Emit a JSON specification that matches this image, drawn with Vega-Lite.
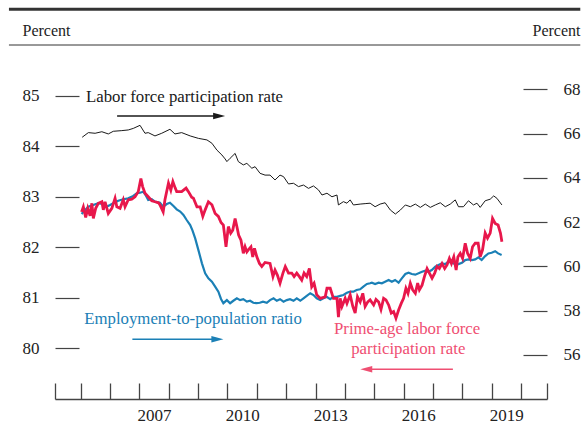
{
  "$schema": "https://vega.github.io/schema/vega-lite/v6.json",
  "width": 492,
  "height": 354,
  "autosize": "none",
  "padding": {"left": 55, "top": 45, "right": 41, "bottom": 29},
  "background": "white",
  "config": {"view": {"stroke": null}, "font": "Liberation Serif"},
  "datasets": {
    "lfpr": [
      {"year":2005.05,"value":65.83},{"year":2005.26,"value":66.04},{"year":2005.49,"value":66.01},{"year":2005.72,"value":66.08},{"year":2005.94,"value":65.98},
      {"year":2006.11,"value":66.10},{"year":2006.40,"value":66.13},{"year":2006.62,"value":66.16},{"year":2006.79,"value":66.23},{"year":2007.02,"value":66.37},
      {"year":2007.19,"value":66.01},{"year":2007.30,"value":66.04},{"year":2007.53,"value":65.89},{"year":2007.76,"value":66.01},{"year":2008.04,"value":66.19},
      {"year":2008.21,"value":65.98},{"year":2008.44,"value":66.04},{"year":2008.73,"value":65.89},{"year":2009.01,"value":65.78},{"year":2009.30,"value":65.71},
      {"year":2009.47,"value":65.56},{"year":2009.64,"value":65.25},{"year":2009.81,"value":65.03},{"year":2009.92,"value":64.85},{"year":2009.98,"value":64.73},
      {"year":2010.09,"value":64.88},{"year":2010.26,"value":65.10},{"year":2010.37,"value":64.73},{"year":2010.54,"value":64.58},{"year":2010.66,"value":64.65},
      {"year":2010.83,"value":64.43},{"year":2010.94,"value":64.50},{"year":2011.11,"value":64.20},{"year":2011.28,"value":64.12},{"year":2011.45,"value":64.12},
      {"year":2011.62,"value":63.90},{"year":2011.79,"value":64.12},{"year":2011.91,"value":64.05},{"year":2012.08,"value":63.72},{"year":2012.25,"value":63.75},
      {"year":2012.42,"value":63.60},{"year":2012.59,"value":63.67},{"year":2012.76,"value":63.52},{"year":2012.93,"value":63.63},{"year":2013.10,"value":63.45},
      {"year":2013.22,"value":63.22},{"year":2013.39,"value":63.30},{"year":2013.56,"value":63.14},{"year":2013.73,"value":63.22},{"year":2013.78,"value":62.77},
      {"year":2013.95,"value":62.92},{"year":2014.07,"value":62.85},{"year":2014.18,"value":63.00},{"year":2014.29,"value":62.77},{"year":2014.52,"value":62.81},
      {"year":2014.69,"value":62.83},{"year":2014.86,"value":62.85},{"year":2015.03,"value":62.69},{"year":2015.20,"value":62.81},{"year":2015.37,"value":62.87},
      {"year":2015.55,"value":62.54},{"year":2015.72,"value":62.36},{"year":2015.89,"value":62.54},{"year":2016.06,"value":62.77},{"year":2016.23,"value":62.69},
      {"year":2016.40,"value":62.81},{"year":2016.57,"value":62.66},{"year":2016.74,"value":62.81},{"year":2016.91,"value":62.66},{"year":2017.08,"value":62.77},
      {"year":2017.25,"value":62.87},{"year":2017.42,"value":62.69},{"year":2017.59,"value":62.81},{"year":2017.76,"value":63.00},{"year":2017.87,"value":62.69},
      {"year":2018.04,"value":62.69},{"year":2018.21,"value":62.96},{"year":2018.38,"value":62.77},{"year":2018.50,"value":62.85},{"year":2018.61,"value":62.66},
      {"year":2018.78,"value":62.96},{"year":2018.95,"value":63.03},{"year":2019.07,"value":63.18},{"year":2019.18,"value":63.07},{"year":2019.35,"value":62.77}
    ],
    "epop": [
      {"year":2005.03,"value":62.36},{"year":2005.15,"value":62.54},{"year":2005.26,"value":62.69},{"year":2005.43,"value":62.77},{"year":2005.60,"value":62.85},
      {"year":2005.77,"value":62.81},{"year":2005.88,"value":62.69},{"year":2006.00,"value":62.77},{"year":2006.11,"value":62.85},{"year":2006.28,"value":62.96},
      {"year":2006.45,"value":63.03},{"year":2006.62,"value":63.07},{"year":2006.79,"value":63.18},{"year":2006.91,"value":63.30},{"year":2007.02,"value":63.32},
      {"year":2007.13,"value":63.37},{"year":2007.21,"value":63.22},{"year":2007.30,"value":62.99},{"year":2007.42,"value":63.03},{"year":2007.53,"value":62.92},
      {"year":2007.70,"value":62.87},{"year":2007.81,"value":62.69},{"year":2007.93,"value":62.81},{"year":2008.04,"value":62.87},{"year":2008.16,"value":62.72},
      {"year":2008.27,"value":62.57},{"year":2008.39,"value":62.47},{"year":2008.50,"value":62.32},{"year":2008.61,"value":62.09},{"year":2008.73,"value":61.86},
      {"year":2008.81,"value":61.61},{"year":2008.90,"value":61.26},{"year":2009.01,"value":60.73},{"year":2009.13,"value":60.13},{"year":2009.24,"value":59.68},
      {"year":2009.35,"value":59.45},{"year":2009.47,"value":59.30},{"year":2009.58,"value":59.08},{"year":2009.69,"value":58.85},{"year":2009.78,"value":58.52},
      {"year":2009.86,"value":58.33},{"year":2009.98,"value":58.47},{"year":2010.09,"value":58.33},{"year":2010.20,"value":58.44},{"year":2010.32,"value":58.55},
      {"year":2010.43,"value":58.47},{"year":2010.54,"value":58.51},{"year":2010.66,"value":58.40},{"year":2010.77,"value":58.44},{"year":2010.88,"value":58.35},
      {"year":2010.99,"value":58.33},{"year":2011.10,"value":58.35},{"year":2011.21,"value":58.40},{"year":2011.34,"value":58.35},{"year":2011.45,"value":58.47},
      {"year":2011.57,"value":58.55},{"year":2011.68,"value":58.44},{"year":2011.79,"value":58.51},{"year":2011.91,"value":58.40},{"year":2012.02,"value":58.47},
      {"year":2012.13,"value":58.51},{"year":2012.25,"value":58.44},{"year":2012.36,"value":58.55},{"year":2012.48,"value":58.44},{"year":2012.59,"value":58.55},
      {"year":2012.70,"value":58.66},{"year":2012.82,"value":58.78},{"year":2012.93,"value":58.70},{"year":2013.04,"value":58.55},{"year":2013.16,"value":58.47},
      {"year":2013.27,"value":58.55},{"year":2013.38,"value":58.62},{"year":2013.50,"value":58.51},{"year":2013.61,"value":58.62},{"year":2013.73,"value":58.62},
      {"year":2013.84,"value":58.66},{"year":2013.95,"value":58.70},{"year":2014.07,"value":58.80},{"year":2014.18,"value":58.85},{"year":2014.29,"value":58.85},
      {"year":2014.40,"value":58.93},{"year":2014.52,"value":58.96},{"year":2014.63,"value":59.08},{"year":2014.75,"value":59.20},{"year":2014.86,"value":59.23},
      {"year":2014.92,"value":59.26},{"year":2015.03,"value":59.20},{"year":2015.15,"value":59.26},{"year":2015.26,"value":59.23},{"year":2015.37,"value":59.30},
      {"year":2015.49,"value":59.38},{"year":2015.60,"value":59.30},{"year":2015.71,"value":59.38},{"year":2015.83,"value":59.26},{"year":2015.94,"value":59.45},
      {"year":2016.06,"value":59.65},{"year":2016.17,"value":59.71},{"year":2016.28,"value":59.65},{"year":2016.40,"value":59.62},{"year":2016.51,"value":59.68},
      {"year":2016.63,"value":59.75},{"year":2016.74,"value":59.80},{"year":2016.85,"value":59.75},{"year":2016.96,"value":59.83},{"year":2017.08,"value":59.98},
      {"year":2017.19,"value":60.06},{"year":2017.30,"value":60.13},{"year":2017.42,"value":60.10},{"year":2017.53,"value":60.21},{"year":2017.64,"value":60.16},
      {"year":2017.76,"value":60.10},{"year":2017.87,"value":60.10},{"year":2017.99,"value":60.16},{"year":2018.10,"value":60.28},{"year":2018.21,"value":60.31},
      {"year":2018.33,"value":60.28},{"year":2018.44,"value":60.31},{"year":2018.55,"value":60.40},{"year":2018.66,"value":60.28},{"year":2018.78,"value":60.46},
      {"year":2018.89,"value":60.58},{"year":2019.00,"value":60.61},{"year":2019.12,"value":60.68},{"year":2019.22,"value":60.58},{"year":2019.34,"value":60.51}
    ],
    "prime": [
      {"year":2005.03,"value":82.70},{"year":2005.09,"value":82.80},{"year":2005.17,"value":82.59},{"year":2005.24,"value":82.77},{"year":2005.32,"value":82.62},
      {"year":2005.38,"value":82.87},{"year":2005.43,"value":82.57},{"year":2005.51,"value":82.77},{"year":2005.60,"value":82.87},{"year":2005.72,"value":82.90},
      {"year":2005.77,"value":82.74},{"year":2005.83,"value":82.90},{"year":2005.94,"value":82.67},{"year":2006.06,"value":82.77},{"year":2006.17,"value":82.97},
      {"year":2006.23,"value":82.80},{"year":2006.34,"value":82.77},{"year":2006.45,"value":82.94},{"year":2006.51,"value":82.80},{"year":2006.62,"value":82.94},
      {"year":2006.74,"value":82.95},{"year":2006.85,"value":83.00},{"year":2006.96,"value":83.10},{"year":2007.05,"value":83.36},{"year":2007.11,"value":83.20},
      {"year":2007.19,"value":83.07},{"year":2007.30,"value":83.00},{"year":2007.42,"value":82.92},{"year":2007.53,"value":82.90},{"year":2007.65,"value":82.88},
      {"year":2007.70,"value":82.84},{"year":2007.81,"value":82.70},{"year":2007.87,"value":82.94},{"year":2007.99,"value":83.27},{"year":2008.07,"value":83.13},
      {"year":2008.14,"value":83.30},{"year":2008.22,"value":83.17},{"year":2008.27,"value":83.10},{"year":2008.44,"value":83.10},{"year":2008.59,"value":83.17},
      {"year":2008.67,"value":83.10},{"year":2008.78,"value":82.99},{"year":2008.84,"value":82.97},{"year":2008.96,"value":82.80},{"year":2009.07,"value":82.80},
      {"year":2009.16,"value":82.61},{"year":2009.24,"value":82.74},{"year":2009.35,"value":82.90},{"year":2009.47,"value":82.84},{"year":2009.58,"value":82.67},
      {"year":2009.69,"value":82.61},{"year":2009.78,"value":82.49},{"year":2009.86,"value":82.44},{"year":2009.95,"value":82.01},{"year":2010.03,"value":82.41},
      {"year":2010.11,"value":82.28},{"year":2010.18,"value":82.34},{"year":2010.26,"value":82.57},{"year":2010.32,"value":82.41},{"year":2010.38,"value":82.24},
      {"year":2010.46,"value":82.14},{"year":2010.54,"value":81.88},{"year":2010.60,"value":82.01},{"year":2010.66,"value":81.91},{"year":2010.71,"value":81.95},
      {"year":2010.80,"value":82.01},{"year":2010.86,"value":81.81},{"year":2010.92,"value":81.98},{"year":2011.00,"value":81.81},{"year":2011.09,"value":81.68},
      {"year":2011.17,"value":81.62},{"year":2011.28,"value":81.70},{"year":2011.45,"value":81.68},{"year":2011.55,"value":81.42},{"year":2011.62,"value":81.55},
      {"year":2011.70,"value":81.45},{"year":2011.79,"value":81.29},{"year":2011.89,"value":81.49},{"year":2011.97,"value":81.62},{"year":2012.08,"value":81.49},
      {"year":2012.19,"value":81.49},{"year":2012.27,"value":81.42},{"year":2012.36,"value":81.49},{"year":2012.45,"value":81.42},{"year":2012.53,"value":81.35},
      {"year":2012.61,"value":81.49},{"year":2012.70,"value":81.42},{"year":2012.79,"value":81.58},{"year":2012.87,"value":81.22},{"year":2012.95,"value":81.29},
      {"year":2013.04,"value":81.06},{"year":2013.16,"value":80.99},{"year":2013.33,"value":81.02},{"year":2013.39,"value":81.19},{"year":2013.50,"value":81.19},
      {"year":2013.61,"value":80.99},{"year":2013.73,"value":80.99},{"year":2013.78,"value":80.62},{"year":2013.84,"value":80.99},{"year":2013.90,"value":80.83},
      {"year":2014.01,"value":80.99},{"year":2014.07,"value":80.89},{"year":2014.18,"value":81.06},{"year":2014.27,"value":80.83},{"year":2014.35,"value":80.70},
      {"year":2014.43,"value":81.02},{"year":2014.52,"value":80.92},{"year":2014.61,"value":81.09},{"year":2014.69,"value":80.83},{"year":2014.78,"value":80.92},
      {"year":2014.86,"value":80.96},{"year":2014.98,"value":80.86},{"year":2015.06,"value":80.97},{"year":2015.15,"value":80.92},{"year":2015.23,"value":80.77},
      {"year":2015.32,"value":80.99},{"year":2015.40,"value":80.96},{"year":2015.49,"value":80.86},{"year":2015.58,"value":80.70},{"year":2015.66,"value":80.73},
      {"year":2015.74,"value":80.60},{"year":2015.83,"value":80.76},{"year":2015.92,"value":80.89},{"year":2016.00,"value":80.99},{"year":2016.08,"value":81.19},
      {"year":2016.15,"value":81.09},{"year":2016.23,"value":81.29},{"year":2016.31,"value":81.16},{"year":2016.40,"value":81.09},{"year":2016.48,"value":81.29},
      {"year":2016.54,"value":81.16},{"year":2016.63,"value":81.25},{"year":2016.71,"value":81.42},{"year":2016.80,"value":81.58},{"year":2016.88,"value":81.49},
      {"year":2016.97,"value":81.39},{"year":2017.06,"value":81.49},{"year":2017.14,"value":81.62},{"year":2017.22,"value":81.58},{"year":2017.31,"value":81.68},
      {"year":2017.40,"value":81.58},{"year":2017.48,"value":81.65},{"year":2017.56,"value":81.78},{"year":2017.63,"value":81.68},{"year":2017.71,"value":81.81},
      {"year":2017.79,"value":81.55},{"year":2017.85,"value":81.81},{"year":2017.93,"value":81.88},{"year":2018.01,"value":81.78},{"year":2018.10,"value":82.08},
      {"year":2018.18,"value":81.88},{"year":2018.27,"value":81.78},{"year":2018.35,"value":82.01},{"year":2018.44,"value":82.08},{"year":2018.54,"value":82.08},
      {"year":2018.61,"value":81.81},{"year":2018.69,"value":81.95},{"year":2018.78,"value":82.28},{"year":2018.86,"value":82.18},{"year":2018.95,"value":82.28},
      {"year":2019.03,"value":82.57},{"year":2019.12,"value":82.47},{"year":2019.22,"value":82.44},{"year":2019.30,"value":82.28},{"year":2019.35,"value":82.11}
    ],
    "notes": [
      {"series":"lfpr","text":"Labor force participation rate","year":2005.18,"value":84.97},
      {"series":"epop","text":"Employment-to-population ratio","year":2005.12,"value":80.58},
      {"series":"prime","text":"Prime-age labor force","year":2016.12,"value":80.385},
      {"series":"prime","text":"participation rate","year":2016.16,"value":79.99}
    ],
    "arrows": [
      {"series":"lfpr","year":2006.24,"head":2009.715,"value":84.597},
      {"series":"epop","year":2006.76,"head":2009.657,"value":80.181},
      {"series":"prime","year":2017.68,"head":2014.727,"value":79.588}
    ],
    "heads": [
      {"series":"lfpr","year":2009.715,"value":84.597},
      {"series":"epop","year":2009.657,"value":80.181},
      {"series":"prime","year":2014.727,"value":79.588}
    ],
    "frame": [
      {"kind":"thick","year":2002.555,"to":2022.02,"value":86.707},
      {"kind":"thin","year":2002.555,"to":2022.02,"value":86.0}
    ]
  },
  "encoding": {
    "x": {"field": "year", "type": "quantitative", "scale": {"domain": [2004.124, 2020.886], "nice": false, "zero": false},
      "axis": {"values": [2004.124, 2005, 2006, 2007, 2008, 2009, 2010, 2011, 2012, 2013, 2014, 2015, 2016, 2017, 2018, 2019, 2020, 2020.886],
        "labelExpr": "indexof([2007,2010,2013,2016,2019], datum.value) >= 0 ? '' + datum.value : ''",
        "labelOffset": 14.67, "labelPadding": 24, "labelFontSize": 17, "labelColor": "#222", "labelFont": "Liberation Serif",
        "labelFlush": false, "labelOverlap": false, "labelBound": false, "grid": false, "title": null,
        "tickSize": -16, "tickColor": "#444", "tickWidth": 1.3, "domainColor": "#444", "domainWidth": 1.6}}
  },
  "layer": [
    {
      "encoding": {
        "y": {"field": "value", "type": "quantitative", "scale": {"domain": [54, 70], "nice": false, "zero": false},
          "axis": {"orient": "right", "values": [56, 58, 60, 62, 64, 66, 68], "format": "d", "domain": false, "grid": false,
            "tickSize": -24, "tickColor": "#444", "tickWidth": 1.2, "labelPadding": 40, "labelFontSize": 17, "labelColor": "#222",
            "labelFont": "Liberation Serif", "labelAlign": "left",
            "title": "Percent", "titleAngle": 0, "titleX": 33, "titleY": -14.5, "titleAlign": "right", "titleBaseline": "middle",
            "titleFontSize": 16, "titleFontWeight": "normal", "titleColor": "#222", "titleFont": "Liberation Serif"}}
      },
      "layer": [
        {"data": {"name": "lfpr"}, "mark": {"type": "line", "color": "#1a1a1a", "strokeWidth": 1}},
        {"data": {"name": "epop"}, "mark": {"type": "line", "color": "#1b80b6", "strokeWidth": 2.2}}
      ]
    },
    {
      "encoding": {
        "y": {"field": "value", "type": "quantitative", "scale": {"domain": [79, 86], "nice": false, "zero": false},
          "axis": {"orient": "left", "values": [80, 81, 82, 83, 84, 85], "format": "d", "domain": false, "grid": false,
            "tickSize": -24, "tickColor": "#444", "tickWidth": 1.2, "labelPadding": 40, "labelFontSize": 17, "labelColor": "#222",
            "labelFont": "Liberation Serif", "labelAlign": "right",
            "title": "Percent", "titleAngle": 0, "titleX": -33, "titleY": -14.5, "titleAlign": "left", "titleBaseline": "middle",
            "titleFontSize": 16, "titleFontWeight": "normal", "titleColor": "#222", "titleFont": "Liberation Serif"}}
      },
      "layer": [
        {"data": {"name": "prime"}, "mark": {"type": "line", "color": "#e8174b", "strokeWidth": 2.8}},
        {
          "data": {"name": "frame"},
          "mark": {"type": "rule", "color": "#333"},
          "encoding": {
            "x2": {"field": "to"},
            "strokeWidth": {"field": "kind", "type": "nominal", "scale": {"domain": ["thick", "thin"], "range": [3, 1]}, "legend": null}
          }
        },
        {
          "data": {"name": "arrows"},
          "mark": {"type": "rule", "strokeWidth": 1.5},
          "encoding": {
            "x2": {"field": "head"},
            "color": {"field": "series", "type": "nominal", "scale": {"domain": ["lfpr", "epop", "prime"], "range": ["#1a1a1a", "#1b80b6", "#ef4f72"]}, "legend": null}
          }
        },
        {
          "data": {"name": "heads"},
          "mark": {"type": "point", "filled": true, "opacity": 1, "size": 144},
          "encoding": {
            "shape": {"field": "series", "type": "nominal", "scale": {"domain": ["lfpr", "epop", "prime"], "range": ["M-1,-0.55L1,0L-1,0.55Z", "M-1,-0.55L1,0L-1,0.55Z", "M1,-0.55L-1,0L1,0.55Z"]}, "legend": null},
            "color": {"field": "series", "type": "nominal", "scale": {"domain": ["lfpr", "epop", "prime"], "range": ["#1a1a1a", "#1b80b6", "#ef4f72"]}, "legend": null}
          }
        },
        {
          "data": {"name": "notes"},
          "transform": [{"filter": "datum.series != 'prime'"}],
          "mark": {"type": "text", "align": "left", "baseline": "middle", "fontSize": 16.8, "font": "Liberation Serif"},
          "encoding": {
            "text": {"field": "text"},
            "color": {"field": "series", "type": "nominal", "scale": {"domain": ["lfpr", "epop", "prime"], "range": ["#1a1a1a", "#1b80b6", "#e8174b"]}, "legend": null}
          }
        },
        {
          "data": {"name": "notes"},
          "transform": [{"filter": "datum.series == 'prime'"}],
          "mark": {"type": "text", "align": "center", "baseline": "middle", "fontSize": 16.8, "font": "Liberation Serif"},
          "encoding": {
            "text": {"field": "text"},
            "color": {"field": "series", "type": "nominal", "scale": {"domain": ["lfpr", "epop", "prime"], "range": ["#1a1a1a", "#1b80b6", "#e8174b"]}, "legend": null}
          }
        }
      ]
    }
  ],
  "resolve": {"scale": {"y": "independent"}, "axis": {"y": "independent"}}
}
